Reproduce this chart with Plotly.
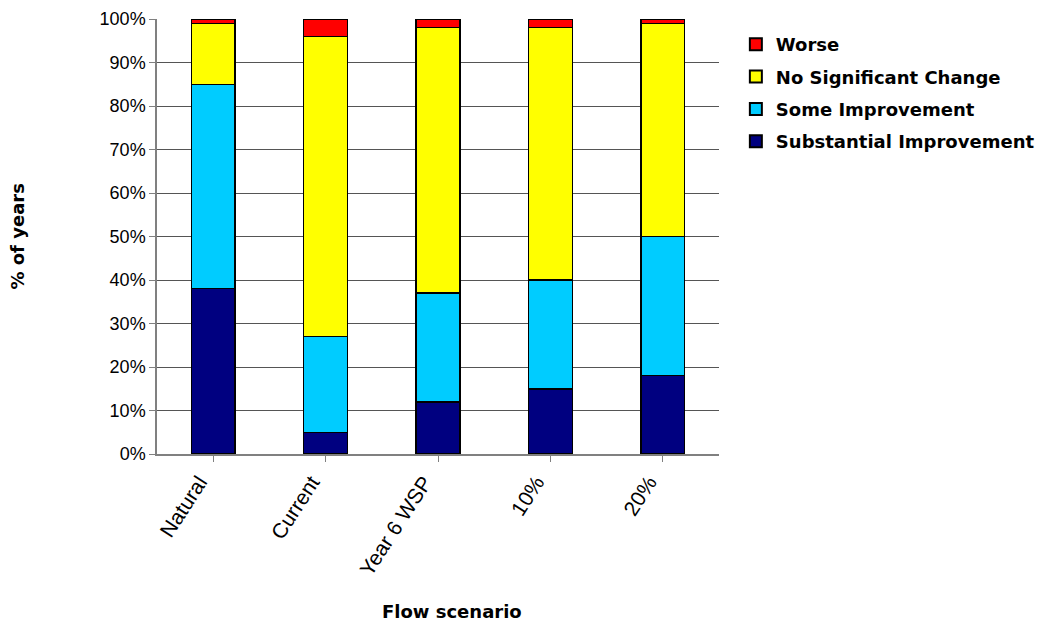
import plotly.graph_objects as go

categories = ["Natural", "Current", "Year 6 WSP", "10%", "20%"]
substantial = [38, 5, 12, 15, 18]
some = [47, 22, 25, 25, 32]
no_change = [14, 69, 61, 58, 49]
worse = [1, 4, 2, 2, 1]

series = [
    ("Substantial Improvement", substantial, "#000080", 4),
    ("Some Improvement", some, "#00CCFF", 3),
    ("No Significant Change", no_change, "#FFFF00", 2),
    ("Worse", worse, "#FF0000", 1),
]

fig = go.Figure()
for name, vals, color, rank in series:
    fig.add_trace(go.Bar(
        x=categories, y=vals, name=name, legendgroup=name, legendrank=rank,
        marker=dict(color=color, line=dict(color="black", width=1.5)),
    ))

font_family = "Liberation Sans, Arial, sans-serif"
bold_family = "DejaVu Sans, Liberation Sans, sans-serif"
fig.update_layout(
    barmode="stack",
    bargap=0.61,
    width=1047, height=615,
    margin=dict(l=149, r=336, t=11, b=169, autoexpand=False),
    plot_bgcolor="white", paper_bgcolor="white",
    font=dict(family=font_family, color="black"),
    legend=dict(
        traceorder="grouped",
        x=1.03, y=0.984, xanchor="left", yanchor="top",
        font=dict(size=18, family=bold_family, weight="bold"),
        tracegroupgap=6, itemsizing="constant",
    ),
    xaxis=dict(
        automargin=False,
        tickangle=-57, tickfont=dict(size=21),
        ticklabelshift=-14,
        showline=True, linecolor="#808080", linewidth=1.5,
        ticks="outside", ticklen=6, tickcolor="#808080",
        showgrid=False,
    ),
    yaxis=dict(
        automargin=False,
        range=[0, 100], dtick=10, ticksuffix="%",
        tickfont=dict(size=18),
        showline=True, linecolor="#808080", linewidth=1.5,
        ticks="outside", ticklen=6, tickcolor="#808080",
        showgrid=True, gridcolor="#555555", gridwidth=1,
        zeroline=False,
    ),
    annotations=[
        dict(text="<b>Flow scenario</b>", xref="paper", yref="paper",
             x=0.525, y=-0.363, xanchor="center", yanchor="middle",
             showarrow=False, font=dict(size=18, family=bold_family)),
        dict(text="<b>% of years</b>", xref="paper", yref="paper",
             x=-0.249, y=0.5, xanchor="center", yanchor="middle",
             textangle=-90, showarrow=False, font=dict(size=18, family=bold_family)),
    ],
)

fig.write_html("out.html")
